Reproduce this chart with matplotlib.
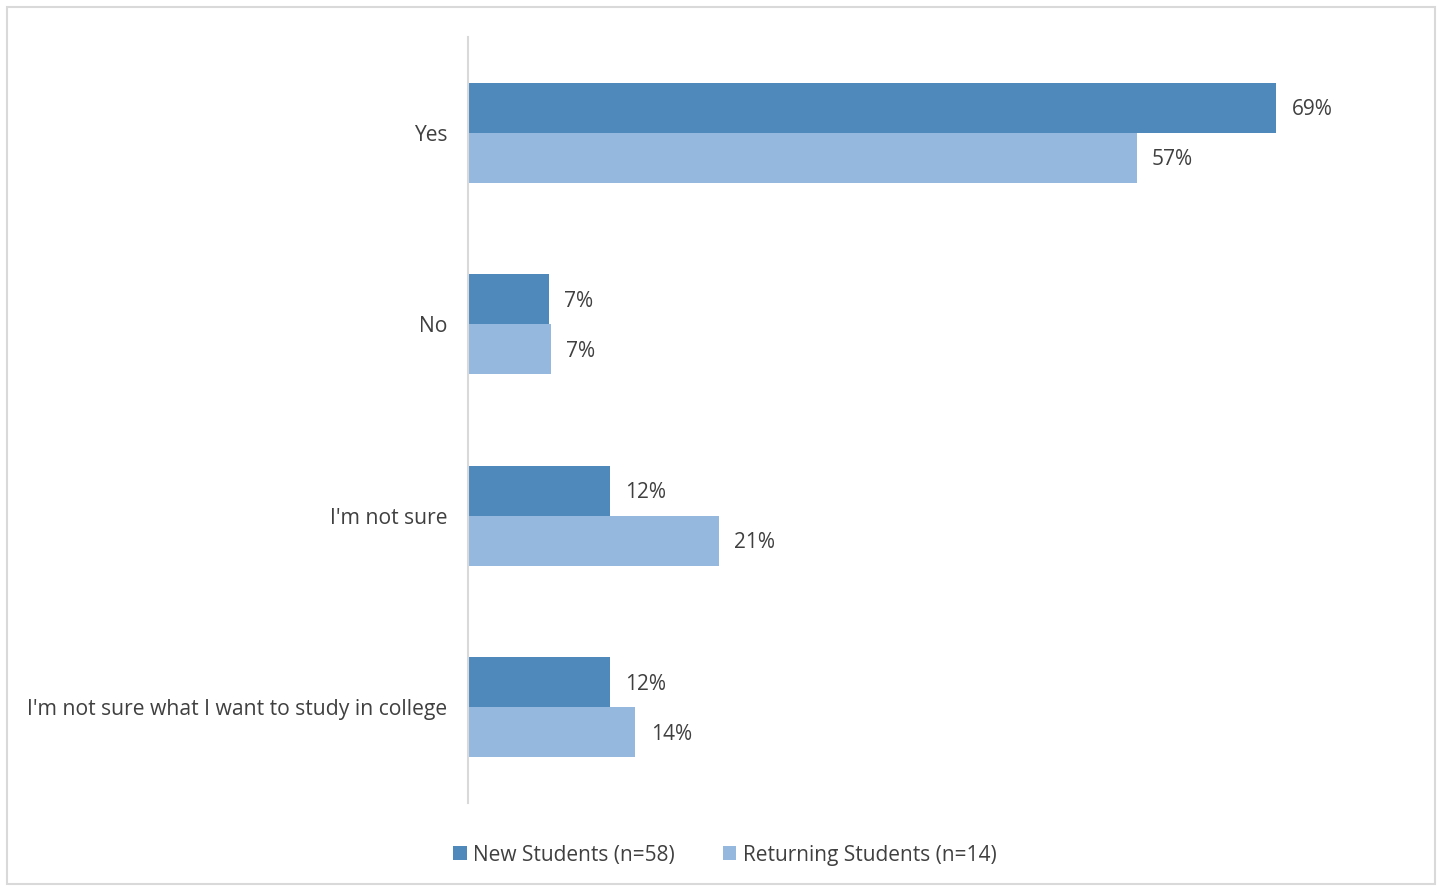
import matplotlib.pyplot as plt
from matplotlib.patches import Rectangle
import numpy as np

plt.rcParams['font.family'] = ['Open Sans', 'DejaVu Sans']

categories = ["Yes", "No", "I'm not sure", "I'm not sure what I want to study in college"]
new_students = [69.0, 6.9, 12.1, 12.1]
returning_students = [57.1, 7.1, 21.4, 14.3]
series_names = ["New Students (n=58)", "Returning Students (n=14)"]

dark = '#4F88BB'
light = '#95B8DF'
text_color = '#404040'

fig = plt.figure(figsize=(14.4, 8.86), dpi=100)
W, H = 1440, 886
ax = fig.add_axes([468 / W, 1 - 803 / H, (1405 - 468) / W, (803 - 37) / H])

# outer frame
fig.patches.append(Rectangle((7 / W, 1 - 884 / H), (1435 - 7) / W, (884 - 7) / H,
                             transform=fig.transFigure, fill=False,
                             edgecolor='#D9D9D9', linewidth=1.5))

y = np.arange(len(categories))
h = 0.26
b1 = ax.barh(y - h / 2, new_students, height=h, color=dark, label=series_names[0])
b2 = ax.barh(y + h / 2, returning_students, height=h, color=light, label=series_names[1])

for bars, vals in [(b1, new_students), (b2, returning_students)]:
    for bar, v in zip(bars, vals):
        ax.text(bar.get_width() + 1.3, bar.get_y() + bar.get_height() / 2 + 0.01,
                f"{v:.0f}%", va='center', ha='left', fontsize=15, color=text_color)

ax.set_xlim(0, 80)
ax.set_ylim(len(categories) - 0.5, -0.5)
ax.set_yticks(y)
ax.set_yticklabels(categories, fontsize=15.2, color=text_color)
ax.tick_params(axis='y', length=0, pad=15)
ax.set_xticks([])
for s in ['top', 'right', 'bottom']:
    ax.spines[s].set_visible(False)
ax.spines['left'].set_color('#D9D9D9')
ax.spines['left'].set_linewidth(1.5)

fig.legend(handles=[b1, b2], labels=series_names, loc='center',
           bbox_to_anchor=(725 / W, 1 - 855 / H), ncol=2, frameon=False,
           fontsize=15, handlelength=0.65, handleheight=0.65, handletextpad=0.3,
           columnspacing=2.3, labelcolor=text_color)

fig.savefig('out.png', dpi=100)
